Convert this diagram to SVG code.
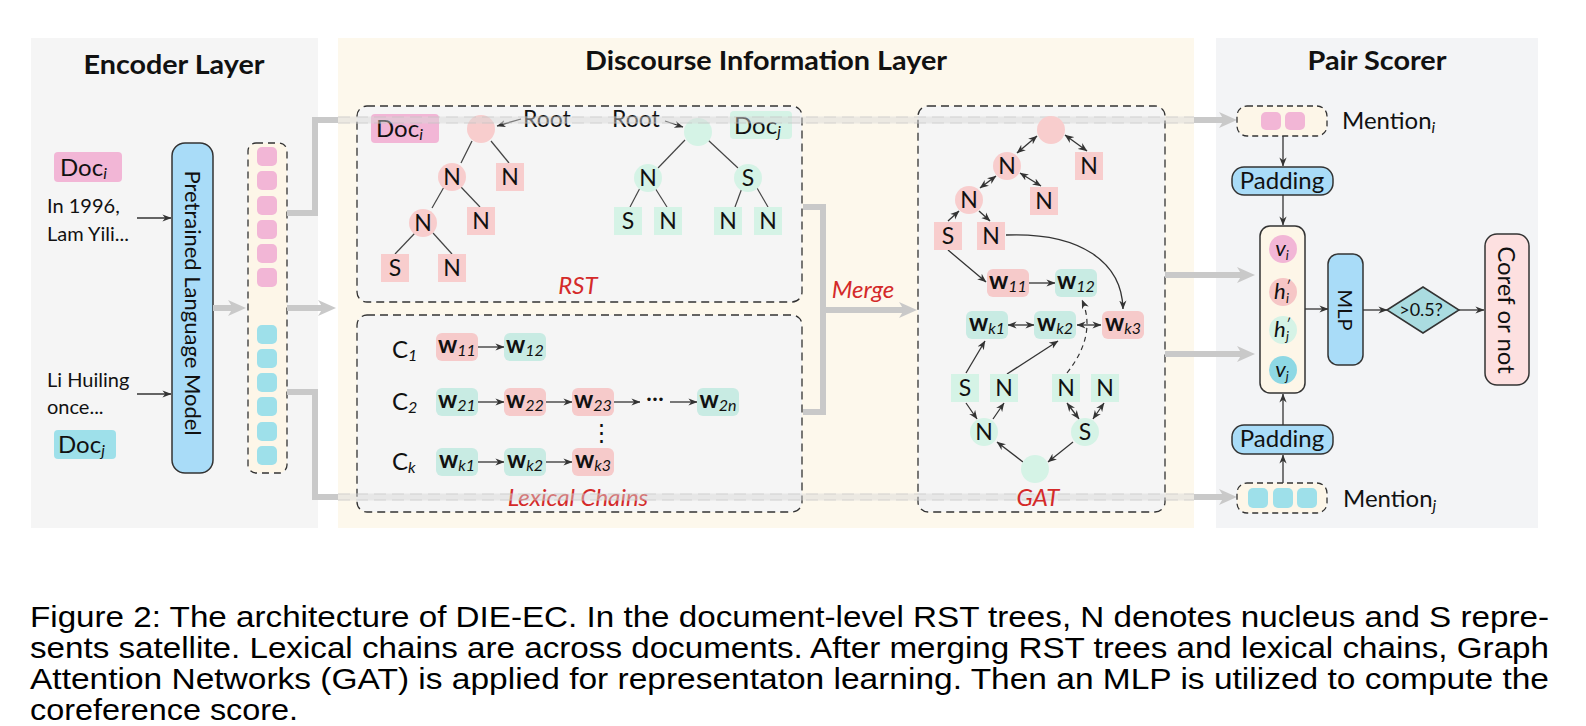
<svg xmlns="http://www.w3.org/2000/svg" width="1586" height="726" viewBox="0 0 1586 726">
<defs>
<style>
text{font-family:Lato,"Open Sans","Liberation Sans",sans-serif;fill:#111}
.title{font-size:27px;font-weight:bold;text-anchor:middle}
.lbl{font-size:23px}
.doc{font-size:24px}
.c{text-anchor:middle}
.red{fill:#d42a2a;font-style:italic;font-size:24px;text-anchor:middle}
.edge{stroke:#444;stroke-width:1.2;fill:none}
.arr{stroke:#333;stroke-width:1.3;fill:none;marker-end:url(#ah)}
.darr{stroke:#333;stroke-width:1.3;fill:none;marker-end:url(#ah);marker-start:url(#ah)}
.gl{stroke:#c9c9c9;stroke-width:6;fill:none}
.gla{stroke:#c9c9c9;stroke-width:6;fill:none;marker-end:url(#gah)}
.faint{stroke:#d6d6d6;stroke-opacity:0.45;stroke-width:7;fill:none}
.fd{stroke:#bdbdbd;stroke-opacity:0.5;stroke-width:1;stroke-dasharray:12 6;fill:none}
.box{fill:#f5f5f5;stroke:#333;stroke-width:1.3;stroke-dasharray:8 5}
.pk{fill:#f8cdcd}.mt{fill:#d5f3e6}.wp{fill:#f6caca}.wm{fill:#c8ebe3}
.vp{fill:#f2b6d6}.vc{fill:#9ee0ea}
.blue{fill:#a9dcf8;stroke:#333;stroke-width:1.5}
.cap{font-family:"Liberation Sans",Arial,sans-serif;font-size:30px;fill:#000}
.w{font-size:24px;font-weight:bold;text-anchor:middle}
.sub{font-size:16px;font-style:italic;font-weight:normal}
</style>
<marker id="ah" viewBox="0 0 10 10" refX="9.5" refY="5" markerWidth="9" markerHeight="9" markerUnits="userSpaceOnUse" orient="auto-start-reverse"><path d="M0,1 L10,5 L0,9 L3,5z" fill="#333"/></marker>
<marker id="gah" viewBox="0 0 18 18" refX="5" refY="9" markerWidth="18" markerHeight="18" markerUnits="userSpaceOnUse" orient="auto"><path d="M0,1 L18,9 L0,17 L5,9z" fill="#c9c9c9"/></marker>
</defs>

<rect width="1586" height="726" fill="#fff"/>

<!-- panels -->
<g id="panels">
<rect x="31" y="38" width="287" height="490" fill="#f5f5f5"/>
<rect x="338" y="38" width="856" height="490" fill="#fdf8ec"/>
<rect x="1216" y="38" width="322" height="490" fill="#f3f4f6"/>
<text class="title" x="174" y="74" textLength="181" lengthAdjust="spacingAndGlyphs">Encoder Layer</text>
<text class="title" x="766" y="70" textLength="362" lengthAdjust="spacingAndGlyphs">Discourse Information Layer</text>
<text class="title" x="1377" y="70" textLength="139" lengthAdjust="spacingAndGlyphs">Pair Scorer</text>
</g>

<!-- inner boxes -->
<g id="rst-box"><rect class="box" x="357" y="106" width="445" height="196" rx="10"/></g>
<g id="lex-box"><rect class="box" x="357" y="315" width="445" height="197" rx="10"/></g>
<g id="gat-box"><rect class="box" x="918" y="106" width="247" height="406" rx="10"/></g>

<!-- encoder layer -->
<g id="doc-i"><rect class="vp" x="54" y="152" width="68" height="30" rx="4"/><text class="doc" x="60" y="176">Doc<tspan class="sub" dy="3">i</tspan></text></g>
<g id="doc-i-text"><text x="47" y="213" font-size="20">In 1996,</text><text x="47" y="241" font-size="20">Lam Yili...</text></g>
<g id="doc-j-text"><text x="47" y="387" font-size="20">Li Huiling</text><text x="47" y="414" font-size="20">once...</text></g>
<g id="doc-j"><rect class="vc" x="54" y="430" width="62" height="29" rx="4"/><text class="doc" x="58" y="453">Doc<tspan class="sub" dy="3">j</tspan></text></g>
<g id="plm"><rect class="blue" x="172" y="143" width="41" height="330" rx="13"/><text font-size="22" class="c" dominant-baseline="central" transform="translate(193,303) rotate(90)">Pretrained Language Model</text></g>
<g id="vec-col">
<rect x="248" y="143" width="39" height="330" rx="8" fill="#fdf6e8" stroke="#333" stroke-width="1.3" stroke-dasharray="7 5"/>
<rect class="vp" x="257" y="147" width="20" height="19" rx="5"/>
<rect class="vp" x="257" y="171" width="20" height="19" rx="5"/>
<rect class="vp" x="257" y="196" width="20" height="19" rx="5"/>
<rect class="vp" x="257" y="220" width="20" height="19" rx="5"/>
<rect class="vp" x="257" y="244" width="20" height="19" rx="5"/>
<rect class="vp" x="257" y="268" width="20" height="19" rx="5"/>
<rect class="vc" x="257" y="325" width="20" height="19" rx="5"/>
<rect class="vc" x="257" y="349" width="20" height="19" rx="5"/>
<rect class="vc" x="257" y="373" width="20" height="19" rx="5"/>
<rect class="vc" x="257" y="397" width="20" height="19" rx="5"/>
<rect class="vc" x="257" y="422" width="20" height="19" rx="5"/>
<rect class="vc" x="257" y="446" width="20" height="19" rx="5"/>
</g>

<!-- RST trees -->
<g id="rst-doc-i"><rect class="vp" x="371" y="114" width="68" height="29" rx="4"/><text class="doc" x="376" y="137">Doc<tspan class="sub" dy="3">i</tspan></text></g>
<g id="rst-left">
<line class="edge" x1="472" y1="141" x2="461" y2="163"/>
<line class="edge" x1="491" y1="141" x2="509" y2="163"/>
<line class="edge" x1="444" y1="187" x2="432" y2="208"/>
<line class="edge" x1="461" y1="187" x2="480" y2="207"/>
<line class="edge" x1="415" y1="233" x2="395" y2="254"/>
<line class="edge" x1="433" y1="233" x2="452" y2="254"/>
<circle class="pk" cx="481" cy="129" r="14"/>
<circle class="pk" cx="452" cy="177" r="14"/><text class="lbl c" x="452" y="185">N</text>
<rect class="pk" x="496" y="163" width="28" height="28"/><text class="lbl c" x="510" y="185">N</text>
<circle class="pk" cx="423" cy="223" r="14"/><text class="lbl c" x="423" y="231">N</text>
<rect class="pk" x="467" y="207" width="28" height="28"/><text class="lbl c" x="481" y="229">N</text>
<rect class="pk" x="381" y="254" width="28" height="28"/><text class="lbl c" x="395" y="276">S</text>
<rect class="pk" x="438" y="254" width="28" height="28"/><text class="lbl c" x="452" y="276">N</text>
<text class="lbl" x="523" y="127">Root</text>
<line class="arr" x1="521" y1="119" x2="497" y2="126"/>
</g>
<g id="rst-right">
<line class="edge" x1="685" y1="140" x2="658" y2="168"/>
<line class="edge" x1="708" y1="140" x2="738" y2="168"/>
<line class="edge" x1="640" y1="188" x2="630" y2="207"/>
<line class="edge" x1="655" y1="188" x2="667" y2="207"/>
<line class="edge" x1="742" y1="188" x2="735" y2="207"/>
<line class="edge" x1="757" y1="188" x2="768" y2="207"/>
<circle class="mt" cx="698" cy="132" r="14"/>
<circle class="mt" cx="648" cy="178" r="14"/><text class="lbl c" x="648" y="186">N</text>
<circle class="mt" cx="748" cy="178" r="14"/><text class="lbl c" x="748" y="186">S</text>
<rect class="mt" x="614" y="207" width="28" height="28"/><text class="lbl c" x="628" y="229">S</text>
<rect class="mt" x="654" y="207" width="28" height="28"/><text class="lbl c" x="668" y="229">N</text>
<rect class="mt" x="714" y="207" width="28" height="28"/><text class="lbl c" x="728" y="229">N</text>
<rect class="mt" x="754" y="207" width="28" height="28"/><text class="lbl c" x="768" y="229">N</text>
<text class="lbl" x="612" y="127">Root</text>
<line class="arr" x1="665" y1="121" x2="683" y2="127"/>
<rect class="mt" x="730" y="111" width="62" height="28" rx="4"/><text class="doc" x="734" y="134">Doc<tspan class="sub" dy="3">j</tspan></text>
</g>
<text class="red" x="578" y="294">RST</text>

<!-- Lexical chains -->
<g id="lex">
<text class="doc" x="392" y="358">C<tspan class="sub" dy="3">1</tspan></text>
<text class="doc" x="392" y="410">C<tspan class="sub" dy="3">2</tspan></text>
<text class="doc" x="392" y="470">C<tspan class="sub" dy="3">k</tspan></text>
<rect class="wp" x="436" y="333" width="42" height="28" rx="6"/><text class="w" x="457" y="353">w<tspan class="sub" dy="3">11</tspan></text>
<rect class="wm" x="504" y="333" width="42" height="28" rx="6"/><text class="w" x="525" y="353">w<tspan class="sub" dy="3">12</tspan></text>
<rect class="wm" x="436" y="388" width="42" height="28" rx="6"/><text class="w" x="457" y="408">w<tspan class="sub" dy="3">21</tspan></text>
<rect class="wp" x="504" y="388" width="42" height="28" rx="6"/><text class="w" x="525" y="408">w<tspan class="sub" dy="3">22</tspan></text>
<rect class="wp" x="572" y="388" width="42" height="28" rx="6"/><text class="w" x="593" y="408">w<tspan class="sub" dy="3">23</tspan></text>
<text class="lbl c" x="655" y="406">···</text>
<rect class="wm" x="697" y="388" width="42" height="28" rx="6"/><text class="w" x="718" y="408">w<tspan class="sub" dy="3">2n</tspan></text>
<text class="lbl c" x="601" y="440" font-size="18">⋮</text>
<rect class="wm" x="436" y="448" width="42" height="28" rx="6"/><text class="w" x="457" y="468">w<tspan class="sub" dy="3">k1</tspan></text>
<rect class="wm" x="504" y="448" width="42" height="28" rx="6"/><text class="w" x="525" y="468">w<tspan class="sub" dy="3">k2</tspan></text>
<rect class="wp" x="572" y="448" width="42" height="28" rx="6"/><text class="w" x="593" y="468">w<tspan class="sub" dy="3">k3</tspan></text>
<line class="arr" x1="478" y1="347" x2="504" y2="347"/>
<line class="arr" x1="478" y1="402" x2="504" y2="402"/>
<line class="arr" x1="546" y1="402" x2="572" y2="402"/>
<line class="arr" x1="614" y1="402" x2="640" y2="402"/>
<line class="arr" x1="670" y1="402" x2="697" y2="402"/>
<line class="arr" x1="478" y1="462" x2="504" y2="462"/>
<line class="arr" x1="546" y1="462" x2="572" y2="462"/>
</g>
<text class="red" x="578" y="506">Lexical Chains</text>

<!-- connectors (grey) -->
<g id="connectors">
<line class="gla" x1="213" y1="308" x2="233" y2="308"/>
<line class="gla" x1="287" y1="308" x2="323" y2="308"/>
<polyline class="gl" points="287,213 315,213 315,120 338,120"/>
<polyline class="gl" points="287,392 315,392 315,497 338,497"/>
<line class="faint" x1="338" y1="120" x2="1194" y2="120"/>
<line class="fd" x1="338" y1="117" x2="1194" y2="117"/>
<line class="fd" x1="338" y1="123" x2="1194" y2="123"/>
<line class="faint" x1="338" y1="497" x2="1194" y2="497"/>
<line class="fd" x1="338" y1="494" x2="1194" y2="494"/>
<line class="fd" x1="338" y1="500" x2="1194" y2="500"/>
<line class="gla" x1="1194" y1="120" x2="1224" y2="120"/>
<line class="gla" x1="1194" y1="497" x2="1224" y2="497"/>
<polyline class="gl" points="803,207 823,207 823,412 803,412"/>
<line class="gla" x1="823" y1="310" x2="904" y2="310"/>
<line class="gla" x1="1165" y1="275" x2="1242" y2="275"/>
<line class="gla" x1="1165" y1="354" x2="1242" y2="354"/>
<line class="arr" x1="137" y1="218" x2="171" y2="218"/>
<line class="arr" x1="137" y1="394" x2="171" y2="394"/>
</g>
<text class="red" x="863" y="298">Merge</text>

<!-- GAT graph -->
<g id="gat">
<line class="darr" x1="1037" y1="136" x2="1017" y2="153"/>
<line class="darr" x1="1065" y1="135" x2="1087" y2="151"/>
<line class="darr" x1="996" y1="176" x2="980" y2="188"/>
<line class="darr" x1="1020" y1="173" x2="1041" y2="186"/>
<line class="arr" x1="948" y1="221" x2="959" y2="211"/>
<line class="arr" x1="979" y1="211" x2="990" y2="221"/>
<line class="arr" x1="948" y1="250" x2="986" y2="282"/>
<line class="arr" x1="1029" y1="283" x2="1055" y2="283"/>
<path class="arr" d="M1006,235 C1080,232 1122,262 1123,309"/>
<path d="M1067,373 Q1097,335 1082,300" fill="none" stroke="#333" stroke-width="1.2" stroke-dasharray="5 4" marker-end="url(#ah)"/>
<line class="darr" x1="1008" y1="325" x2="1034" y2="325"/>
<line class="darr" x1="1077" y1="325" x2="1101" y2="325"/>
<line class="arr" x1="966" y1="373" x2="985" y2="341"/>
<line class="arr" x1="1007" y1="374" x2="1058" y2="341"/>
<line class="arr" x1="966" y1="403" x2="977" y2="419"/>
<line class="arr" x1="993" y1="419" x2="1004" y2="403"/>
<line class="darr" x1="1067" y1="403" x2="1079" y2="419"/>
<line class="darr" x1="1104" y1="403" x2="1093" y2="419"/>
<line class="arr" x1="1023" y1="462" x2="997" y2="442"/>
<line class="arr" x1="1073" y1="442" x2="1048" y2="462"/>
<circle class="pk" cx="1051" cy="130" r="14"/>
<rect class="pk" x="1075" y="152" width="28" height="28"/><text class="lbl c" x="1089" y="174">N</text>
<circle class="pk" cx="1007" cy="166" r="14"/><text class="lbl c" x="1007" y="174">N</text>
<rect class="pk" x="1030" y="187" width="28" height="28"/><text class="lbl c" x="1044" y="209">N</text>
<circle class="pk" cx="969" cy="200" r="14"/><text class="lbl c" x="969" y="208">N</text>
<rect class="pk" x="934" y="222" width="28" height="28"/><text class="lbl c" x="948" y="244">S</text>
<rect class="pk" x="977" y="222" width="28" height="28"/><text class="lbl c" x="991" y="244">N</text>
<rect class="wp" x="987" y="269" width="42" height="28" rx="6"/><text class="w" x="1008" y="289">w<tspan class="sub" dy="3">11</tspan></text>
<rect class="wm" x="1055" y="269" width="42" height="28" rx="6"/><text class="w" x="1076" y="289">w<tspan class="sub" dy="3">12</tspan></text>
<rect class="wm" x="966" y="311" width="42" height="28" rx="6"/><text class="w" x="987" y="331">w<tspan class="sub" dy="3">k1</tspan></text>
<rect class="wm" x="1034" y="311" width="42" height="28" rx="6"/><text class="w" x="1055" y="331">w<tspan class="sub" dy="3">k2</tspan></text>
<rect class="wp" x="1102" y="311" width="42" height="28" rx="6"/><text class="w" x="1123" y="331">w<tspan class="sub" dy="3">k3</tspan></text>
<rect class="mt" x="951" y="374" width="28" height="28"/><text class="lbl c" x="965" y="396">S</text>
<rect class="mt" x="990" y="374" width="28" height="28"/><text class="lbl c" x="1004" y="396">N</text>
<rect class="mt" x="1052" y="374" width="28" height="28"/><text class="lbl c" x="1066" y="396">N</text>
<rect class="mt" x="1091" y="374" width="28" height="28"/><text class="lbl c" x="1105" y="396">N</text>
<circle class="mt" cx="984" cy="432" r="14"/><text class="lbl c" x="984" y="440">N</text>
<circle class="mt" cx="1085" cy="432" r="14"/><text class="lbl c" x="1085" y="440">S</text>
<circle class="mt" cx="1035" cy="469" r="14"/>
</g>
<text class="red" x="1038" y="506">GAT</text>

<!-- Pair scorer -->
<g id="mention-i"><rect x="1237" y="106" width="90" height="30" rx="10" fill="#fdf6e8" stroke="#333" stroke-width="1.3" stroke-dasharray="6 4"/>
<rect class="vp" x="1261" y="112" width="20" height="18" rx="5"/><rect class="vp" x="1285" y="112" width="20" height="18" rx="5"/>
<text x="1342" y="129" font-size="24">Mention<tspan class="sub" dy="4">i</tspan></text></g>
<g id="padding-1"><rect class="blue" x="1232" y="167" width="101" height="28" rx="12"/><text class="c" x="1282" y="189" font-size="24">Padding</text></g>
<g id="vec-pair"><rect x="1260" y="226" width="45" height="167" rx="10" fill="#fdf6e8" stroke="#333" stroke-width="1.5"/>
<circle cx="1283" cy="249" r="14" fill="#f2b6d6"/><text class="c" x="1282" y="256" font-size="22" font-style="italic">v<tspan font-size="13" dy="4">i</tspan></text>
<circle cx="1283" cy="292" r="14" fill="#f6c6c6"/><text class="c" x="1282" y="299" font-size="22" font-style="italic">h<tspan font-size="14" dy="-8">′</tspan><tspan font-size="13" dx="-4" dy="12">i</tspan></text>
<circle cx="1283" cy="330" r="14" fill="#d5f3e6"/><text class="c" x="1282" y="337" font-size="22" font-style="italic">h<tspan font-size="14" dy="-8">′</tspan><tspan font-size="13" dx="-4" dy="12">j</tspan></text>
<circle cx="1283" cy="370" r="14" fill="#8ed8e4"/><text class="c" x="1282" y="377" font-size="22" font-style="italic">v<tspan font-size="13" dy="4">j</tspan></text></g>
<g id="mlp"><rect class="blue" x="1328" y="254" width="35" height="111" rx="10"/><text class="c" font-size="20" dominant-baseline="central" transform="translate(1345.5,310) rotate(90)">MLP</text></g>
<g id="thresh"><polygon points="1387,310 1423,287 1459,310 1423,333" fill="#aadce0" stroke="#333" stroke-width="1.5"/><text class="c" x="1421" y="316" font-size="18">&gt;0.5?</text></g>
<g id="coref"><rect x="1485" y="234" width="44" height="151" rx="12" fill="#fde0e0" stroke="#333" stroke-width="1.5"/><text class="c" font-size="24" dominant-baseline="central" transform="translate(1507,310) rotate(90)">Coref or not</text></g>
<g id="padding-2"><rect class="blue" x="1232" y="425" width="101" height="29" rx="12"/><text class="c" x="1282" y="447" font-size="24">Padding</text></g>
<g id="mention-j"><rect x="1237" y="483" width="90" height="30" rx="10" fill="#fdf6e8" stroke="#333" stroke-width="1.3" stroke-dasharray="6 4"/>
<rect class="vc" x="1248" y="488" width="20" height="20" rx="5"/><rect class="vc" x="1273" y="488" width="20" height="20" rx="5"/><rect class="vc" x="1297" y="488" width="20" height="20" rx="5"/>
<text x="1343" y="507" font-size="24">Mention<tspan class="sub" dy="4">j</tspan></text></g>
<g id="pair-arrows">
<line class="arr" x1="1283" y1="136" x2="1283" y2="166"/>
<line class="arr" x1="1283" y1="195" x2="1283" y2="225"/>
<line class="arr" x1="1283" y1="483" x2="1283" y2="455"/>
<line class="arr" x1="1283" y1="425" x2="1283" y2="394"/>
<line class="arr" x1="1305" y1="309" x2="1328" y2="309"/>
<line class="arr" x1="1363" y1="310" x2="1387" y2="310"/>
<line class="arr" x1="1459" y1="310" x2="1484" y2="310"/>
</g>

<!-- caption -->
<g id="caption">
<text class="cap" x="30" y="627" textLength="1519" lengthAdjust="spacingAndGlyphs">Figure 2: The architecture of DIE-EC. In the document-level RST trees, N denotes nucleus and S repre-</text>
<text class="cap" x="30" y="658" textLength="1519" lengthAdjust="spacingAndGlyphs">sents satellite. Lexical chains are across documents. After merging RST trees and lexical chains, Graph</text>
<text class="cap" x="30" y="689" textLength="1519" lengthAdjust="spacingAndGlyphs">Attention Networks (GAT) is applied for representaton learning. Then an MLP is utilized to compute the</text>
<text class="cap" x="30" y="720" textLength="268" lengthAdjust="spacingAndGlyphs">coreference score.</text>
</g>
</svg>
